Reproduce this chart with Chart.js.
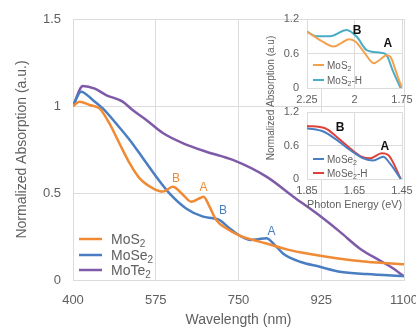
<!DOCTYPE html>
<html><head><meta charset="utf-8">
<script src="https://cdn.jsdelivr.net/npm/chart.js@4.4.1/dist/chart.umd.min.js"></script>
<style>
html,body{margin:0;padding:0;background:#fff;}
#wrap{position:relative;width:416px;height:330px;overflow:hidden;background:#fff;}
canvas{position:absolute;}
#main{left:0;top:0;width:416px;height:330px;}
#in1{left:276px;top:0;width:140px;height:104px;}
#in2{left:276px;top:104px;width:140px;height:112px;}
</style></head><body>
<div id="wrap">
<canvas id="main" width="416" height="330"></canvas>
<canvas id="in1" width="140" height="104"></canvas>
<canvas id="in2" width="140" height="112"></canvas>
</div>
<script>
// ---------- main chart data ----------
const wavelengthTicks = [400, 575, 750, 925, 1100];
const absorptionTicks = [0, 0.5, 1, 1.5];

const mos2Wl  = [400,414,435,456,477,498,520,541,569,590,611,633,650,668,676,689,703,724,754,781,809,852,901,957,1021,1100];
const mos2Abs = [1.0,1.025,1.006,0.986,0.90,0.786,0.67,0.584,0.527,0.508,0.536,0.489,0.45,0.47,0.479,0.42,0.345,0.297,0.253,0.23,0.21,0.176,0.149,0.125,0.105,0.09];

const mose2Wl  = [400,417,442,463,491,520,548,576,604,640,675,696,710,731,754,775,791,809,827,844,880,922,964,1021,1100];
const mose2Abs = [1.0,1.082,1.034,0.986,0.90,0.805,0.70,0.594,0.498,0.41,0.364,0.355,0.345,0.297,0.253,0.23,0.234,0.24,0.20,0.153,0.105,0.076,0.048,0.034,0.023];

const mote2Wl  = [400,421,446,470,505,526,555,590,632,682,738,809,866,915,964,1007,1050,1075,1100];
const mote2Abs = [1.0,1.115,1.10,1.063,1.025,0.977,0.92,0.845,0.787,0.737,0.69,0.594,0.479,0.383,0.278,0.18,0.11,0.07,0.02];

const mainPeakText = ['B','A','B','A'];
const mainPeakWl   = [618, 676, 717, 820];
const mainPeakAbs  = [0.585, 0.53, 0.40, 0.28];
const mainPeakSeries = [0, 0, 1, 1];

// ---------- inset 1 (MoS2) ----------
const inset1Ticks = [2.25, 2, 1.75];
const insetAbsTicks = [0, 0.6, 1.2];
const mos2InsetE   = [2.25,2.179,2.109,2.065,2.030,1.995,1.951,1.898,1.863,1.832,1.811,1.776,1.75];
const mos2InsetAbs = [0.98,0.83,0.72,0.79,0.85,0.81,0.63,0.43,0.50,0.57,0.54,0.23,0.0];
const mos2HInsetE   = [2.25,2.199,2.129,2.041,1.988,1.936,1.857,1.831,1.796,1.757];
const mos2HInsetAbs = [0.98,0.90,0.90,1.01,0.89,0.66,0.61,0.57,0.28,0.0];
const inset1PeakText = ['B','A'];
const inset1PeakE    = [1.987, 1.824];
const inset1PeakAbs  = [0.99, 0.765];

// ---------- inset 2 (MoSe2) ----------
const inset2Ticks = [1.85, 1.65, 1.45];
const mose2InsetE   = [1.85,1.781,1.725,1.669,1.613,1.571,1.529,1.501,1.455];
const mose2InsetAbs = [0.91,0.85,0.70,0.52,0.37,0.33,0.40,0.28,0.0];
const mose2HInsetE   = [1.85,1.774,1.718,1.669,1.620,1.585,1.535,1.508,1.455];
const mose2HInsetAbs = [0.95,0.91,0.73,0.55,0.40,0.37,0.46,0.43,0.0];
const inset2PeakText = ['B','A'];
const inset2PeakE    = [1.711, 1.522];
const inset2PeakAbs  = [0.913, 0.573];

// ---------- styles ----------
const FONT = "'Liberation Sans', Arial, sans-serif";
const TXT = '#5F5F5F';
const GRID = '#DCDCDC';
const C_MOS2 = '#F08A35', C_MOSE2 = '#4A7EC2', C_MOTE2 = '#7E5AA8';
const C_MOS2I = '#F4A04C', C_MOS2H = '#4BACC6', C_MOSE2I = '#4A7EC2', C_MOSE2H = '#E0413B';

const pts = (xs, ys) => xs.map((x, i) => ({x, y: ys[i]}));
const plainNum = v => String(Math.round(v * 100) / 100);

function drawRich(ctx, text, x, y, size, color) {
  ctx.fillStyle = color;
  ctx.textBaseline = 'middle';
  ctx.textAlign = 'left';
  let cx = x;
  let buf = '';
  const flush = () => {
    if (!buf) return;
    ctx.font = size + 'px ' + FONT;
    ctx.fillText(buf, cx, y);
    cx += ctx.measureText(buf).width;
    buf = '';
  };
  for (const ch of text) {
    if (ch === '₂') {
      flush();
      const s = Math.round(size * 0.68);
      ctx.font = s + 'px ' + FONT;
      ctx.fillText('2', cx, y + size * 0.3);
      cx += ctx.measureText('2').width;
    } else buf += ch;
  }
  flush();
}

function legendPlugin(cfg) {
  return {
    id: 'customLegend',
    afterDraw(chart) {
      const {ctx, chartArea} = chart;
      ctx.save();
      chart.data.datasets.forEach((ds, i) => {
        const y = chartArea.bottom - cfg.offsets[i];
        ctx.strokeStyle = ds.borderColor;
        ctx.lineWidth = cfg.lw;
        ctx.beginPath();
        ctx.moveTo(chartArea.left + cfg.x0, y);
        ctx.lineTo(chartArea.left + cfg.x1, y);
        ctx.stroke();
        drawRich(ctx, ds.label, chartArea.left + cfg.tx, y + 1, cfg.size, TXT);
      });
      ctx.restore();
    }
  };
}

function peakPlugin(texts, xs, ys, colorFn, font) {
  return {
    id: 'peaks',
    afterDatasetsDraw(chart) {
      const {ctx, scales} = chart;
      ctx.save();
      ctx.font = font;
      ctx.textAlign = 'center';
      ctx.textBaseline = 'middle';
      texts.forEach((t, i) => {
        ctx.fillStyle = colorFn(i);
        ctx.fillText(t, scales.x.getPixelForValue(xs[i]), scales.y.getPixelForValue(ys[i]));
      });
      ctx.restore();
    }
  };
}

const whiteArea = {
  id: 'whiteArea',
  beforeDraw(chart) {
    const {ctx, chartArea: a} = chart;
    ctx.save();
    ctx.fillStyle = '#fff';
    ctx.fillRect(a.left, a.top, a.right - a.left, a.bottom - a.top);
    ctx.restore();
  }
};

const insetYTitle = {
  id: 'insetYTitle',
  afterDraw(chart) {
    const ctx = chart.ctx;
    ctx.save();
    ctx.translate(271, 98);
    ctx.rotate(-Math.PI / 2);
    ctx.font = '10px ' + FONT;
    ctx.fillStyle = TXT;
    ctx.textAlign = 'center';
    ctx.textBaseline = 'middle';
    ctx.fillText('Normalized Absorption (a.u)', 0, 0);
    ctx.restore();
  }
};

function lineDs(label, xs, ys, color, w) {
  return {label, data: pts(xs, ys), borderColor: color, backgroundColor: color,
    borderWidth: w, pointRadius: 0, fill: false, cubicInterpolationMode: 'monotone'};
}

const fixTicks = arr => scale => { scale.ticks = arr.map(v => ({value: v})); };

// ---------- main chart ----------
new Chart(document.getElementById('main'), {
  type: 'line',
  data: {datasets: [
    lineDs('MoS₂', mos2Wl, mos2Abs, C_MOS2, 2.5),
    lineDs('MoSe₂', mose2Wl, mose2Abs, C_MOSE2, 2.5),
    lineDs('MoTe₂', mote2Wl, mote2Abs, C_MOTE2, 2.5)
  ]},
  options: {
    responsive: false, animation: false, devicePixelRatio: 1,
    layout: {padding: {left: 0, top: 19, right: 12, bottom: 0}},
    plugins: {legend: {display: false}, tooltip: {enabled: false}},
    scales: {
      x: {type: 'linear', min: 400, max: 1100,
        afterBuildTicks: fixTicks(wavelengthTicks),
        afterFit(s) { s.height = 50; s.paddingLeft = 0; s.paddingRight = 0; },
        grid: {color: GRID, drawTicks: false}, border: {color: GRID},
        ticks: {color: TXT, font: {family: FONT, size: 13}, padding: 13, maxRotation: 0, autoSkip: false, callback: plainNum},
        title: {display: true, text: 'Wavelength (nm)', color: TXT, font: {family: FONT, size: 14}, padding: {top: 0, bottom: 1}}
      },
      y: {type: 'linear', min: 0, max: 1.5,
        afterBuildTicks: fixTicks(absorptionTicks),
        afterFit(s) { s.width = 73; s.paddingTop = 0; s.paddingBottom = 0; },
        grid: {color: GRID, drawTicks: false}, border: {color: GRID},
        ticks: {color: TXT, font: {family: FONT, size: 13}, padding: 12, callback: plainNum},
        title: {display: true, text: 'Normalized Absorption (a.u.)', color: TXT, font: {family: FONT, size: 14}, padding: {top: 14, bottom: 0}}
      }
    }
  },
  plugins: [
    legendPlugin({offsets: [41, 25, 10], x0: 6, x1: 29, tx: 38, size: 14, lw: 2.5}),
    peakPlugin(mainPeakText, mainPeakWl, mainPeakAbs, i => [C_MOS2, C_MOSE2][mainPeakSeries[i]], '12px ' + FONT),
    insetYTitle
  ]
});

// ---------- inset charts ----------
function insetOptions(xTicks, xmin, xmax, pad, xHeight, title) {
  return {
    responsive: false, animation: false, devicePixelRatio: 1,
    layout: {padding: pad},
    plugins: {legend: {display: false}, tooltip: {enabled: false}},
    scales: {
      x: {type: 'linear', min: xmin, max: xmax, reverse: true,
        afterBuildTicks: fixTicks(xTicks),
        afterFit(s) { s.height = xHeight; s.paddingLeft = 0; s.paddingRight = 0; },
        grid: {color: GRID, drawTicks: false}, border: {color: GRID},
        ticks: {color: TXT, font: {family: FONT, size: 11}, padding: 5, maxRotation: 0, autoSkip: false,
          callback: plainNum},
        title: title ? {display: true, text: title, color: TXT, font: {family: FONT, size: 11}, padding: {top: 0, bottom: 4}} : {display: false}
      },
      y: {type: 'linear', min: 0, max: 1.2,
        afterBuildTicks: fixTicks(insetAbsTicks),
        afterFit(s) { s.width = 31; s.paddingTop = 0; s.paddingBottom = 0; },
        grid: {color: GRID, drawTicks: false}, border: {color: GRID},
        ticks: {color: TXT, font: {family: FONT, size: 11}, padding: 8, callback: plainNum}
      }
    }
  };
}

new Chart(document.getElementById('in1'), {
  type: 'line',
  data: {datasets: [
    lineDs('MoS₂', mos2InsetE, mos2InsetAbs, C_MOS2I, 2),
    lineDs('MoS₂-H', mos2HInsetE, mos2HInsetAbs, C_MOS2H, 2)
  ]},
  options: insetOptions(inset1Ticks, 1.75, 2.25, {left: 0, top: 19, right: 14, bottom: 0}, 16, null),
  plugins: [whiteArea,
    legendPlugin({offsets: [23, 8], x0: 6, x1: 17, tx: 20, size: 10, lw: 2}),
    peakPlugin(inset1PeakText, inset1PeakE, inset1PeakAbs, () => '#111', 'bold 12px ' + FONT)]
});

new Chart(document.getElementById('in2'), {
  type: 'line',
  data: {datasets: [
    lineDs('MoSe₂', mose2InsetE, mose2InsetAbs, C_MOSE2I, 2),
    lineDs('MoSe₂-H', mose2HInsetE, mose2HInsetAbs, C_MOSE2H, 2)
  ]},
  options: insetOptions(inset2Ticks, 1.45, 1.85, {left: 0, top: 8, right: 14, bottom: 0}, 37, 'Photon Energy (eV)'),
  plugins: [whiteArea,
    legendPlugin({offsets: [20, 6], x0: 6, x1: 17, tx: 20, size: 10, lw: 2}),
    peakPlugin(inset2PeakText, inset2PeakE, inset2PeakAbs, () => '#111', 'bold 12px ' + FONT)]
});
</script>
</body></html>
